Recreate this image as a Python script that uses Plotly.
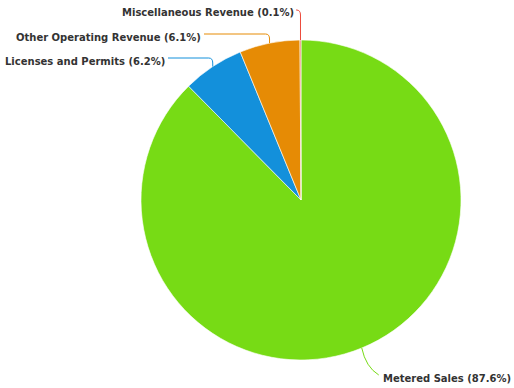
import math
import plotly.graph_objects as go

# Revenue breakdown
labels = ["Metered Sales", "Licenses and Permits", "Other Operating Revenue", "Miscellaneous Revenue"]
values = [87.6, 6.2, 6.1, 0.1]
colors = ["#77DB15", "#1390DB", "#E68B05", "#EC4A3C"]

W, H = 514, 388
CX, CY, R = 301, 200, 160

# where each label's text sits (pixel space): anchor x, centre y, connector side
label_pos = {
    "Metered Sales": (513, 378, "left"),
    "Licenses and Permits": (167, 61, "right"),
    "Other Operating Revenue": (203, 37, "right"),
    "Miscellaneous Revenue": (296, 13, "right"),
}


def px(x):
    return x / W


def py(y):
    return 1 - y / H


fig = go.Figure(
    go.Pie(
        labels=labels,
        values=values,
        sort=False,
        direction="clockwise",
        rotation=0,
        textinfo="none",
        hoverinfo="label+percent",
        marker=dict(colors=colors, line=dict(color="white", width=0.6)),
        domain=dict(x=[px(CX - R), px(CX + R)], y=[py(CY + R), py(CY - R)]),
        showlegend=False,
    )
)

total = sum(values)
cum = 0.0
for lab, val, col in zip(labels, values, colors):
    mid = 2 * math.pi * (cum + val / 2) / total
    cum += val
    ex = CX + R * math.sin(mid)
    ey = CY - R * math.cos(mid)
    tx, ty, side = label_pos[lab]
    pct = 100 * val / total
    fig.add_annotation(
        x=px(tx), y=py(ty), xref="paper", yref="paper",
        text=f"{lab} ({pct:.1f}%)", showarrow=False,
        xanchor="right", yanchor="middle",
        font=dict(family="DejaVu Sans", size=10, color="#333333", weight="bold"),
    )
    ly = ty - 3
    if side == "right":
        # horizontal run from the text, bending down into the slice edge
        path = (f"M {px(tx + 1)},{py(ly)} L {px(ex - 4)},{py(ly)} "
                f"Q {px(ex)},{py(ly)} {px(ex)},{py(ly + 5)} L {px(ex)},{py(ey)}")
    else:
        # short curved run from the slice edge down towards the text
        path = (f"M {px(ex)},{py(ey)} Q {px(ex + 4)},{py(ly - 8)} {px(ex + 17)},{py(ly)}")
    fig.add_shape(type="path", path=path, xref="paper", yref="paper",
                  line=dict(color=col, width=1))

fig.update_layout(
    width=W, height=H,
    margin=dict(l=0, r=0, t=0, b=0),
    paper_bgcolor="white", plot_bgcolor="white",
)

fig.write_html("out.html")
